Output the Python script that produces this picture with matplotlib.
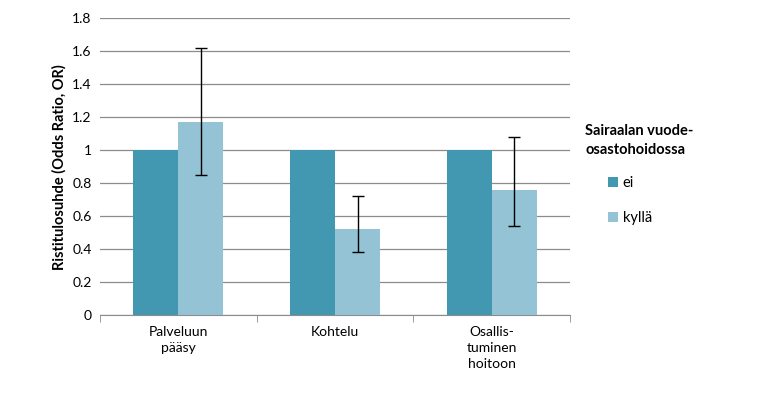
import numpy as np
import matplotlib.pyplot as plt
from matplotlib.ticker import FixedLocator, FuncFormatter

plt.rcParams['font.family'] = ['Lato', 'DejaVu Sans']

categories = ["Palveluun\npääsy", "Kohtelu", "Osallis-\ntuminen\nhoitoon"]
series_names = ["ei", "kyllä"]
ei_values = [1.0, 1.0, 1.0]
kylla_values = [1.17, 0.52, 0.76]
kylla_low = [0.85, 0.38, 0.54]
kylla_high = [1.62, 0.72, 1.08]
yticks = [0, 0.2, 0.4, 0.6, 0.8, 1.0, 1.2, 1.4, 1.6, 1.8]
legend_title = "Sairaalan vuode-\nosastohoidossa"

dark = "#4198B0"
light = "#93C3D5"

fig = plt.figure(figsize=(7.58, 3.93), dpi=100)
ax = fig.add_axes([0.132, 0.198, 0.62, 0.756])

x = np.arange(len(categories))
w = 0.287
ax.bar(x - w / 2, ei_values, w, color=dark, label=series_names[0], zorder=3)
err = [np.array(kylla_values) - np.array(kylla_low),
       np.array(kylla_high) - np.array(kylla_values)]
ax.bar(x + w / 2, kylla_values, w, color=light, label=series_names[1], zorder=3)
ax.errorbar(x + w / 2, kylla_values, yerr=err, fmt="none", ecolor="black",
            elinewidth=1, capsize=4, capthick=1, zorder=4)

ax.set_xlim(-0.5, len(categories) - 0.5)
ax.set_ylim(0, 1.8)
ax.set_yticks(yticks)
ax.yaxis.set_major_formatter(FuncFormatter(lambda v, p: f"{v:g}"))
ax.yaxis.grid(True, color="#8c8c8c", linewidth=0.9, zorder=0)
ax.tick_params(axis="y", length=0, labelsize=10, pad=6)

ax.set_xticks(x)
ax.set_xticklabels(categories, fontsize=10, linespacing=1.4)
ax.tick_params(axis="x", which="major", length=0, pad=8)
ax.xaxis.set_minor_locator(FixedLocator(np.arange(len(categories) + 1) - 0.5))
ax.tick_params(axis="x", which="minor", length=5, color="#8c8c8c")

for s in ["top", "right", "left"]:
    ax.spines[s].set_visible(False)
ax.spines["bottom"].set_color("#8c8c8c")

ax.set_ylabel("Ristitulosuhde (Odds Ratio, OR)", fontsize=10.5, fontweight="bold")

# legend title drawn separately so the entries can sit indented under it
fig.text(0.772, 0.685, legend_title, fontsize=10.5, fontweight="bold",
         ha="left", va="top", linespacing=1.45)
ax.legend(frameon=False, loc="upper left", bbox_to_anchor=(0.785, 0.586),
          bbox_transform=fig.transFigure, fontsize=10.5,
          handlelength=0.7, handleheight=0.7, handletextpad=0.3,
          labelspacing=1.45)

fig.savefig("out.png", dpi=100)
